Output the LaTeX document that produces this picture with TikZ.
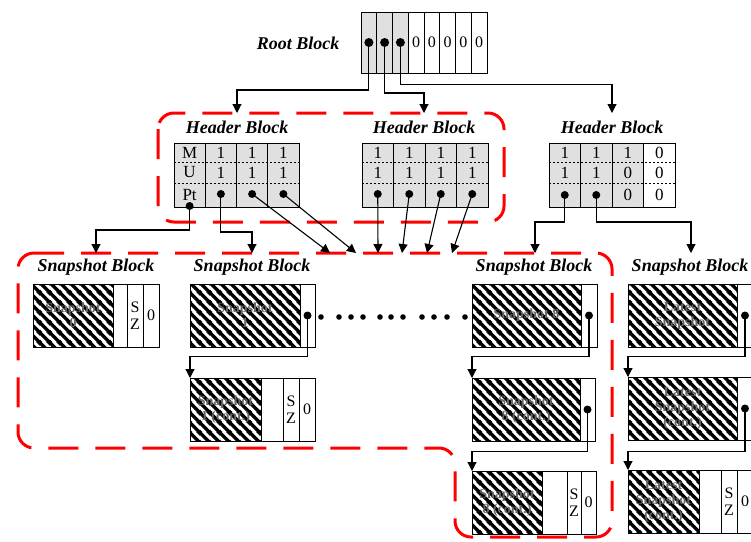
\documentclass[tikz,border=0pt]{standalone}
\usepackage{fontspec}
\setmainfont{Liberation Serif}
\usetikzlibrary{arrows.meta, positioning, calc, patterns.meta}

\tikzdeclarepattern{
  name=snaphatch,
  type=uncolored,
  bounding box={(0pt,0pt) and (10pt,10pt)},
  tile size={(10pt,10pt)},
  code={
    \draw[line width=3.6pt] (-1pt,11pt) -- (11pt,-1pt);
    \draw[line width=3.6pt] (-2pt,2pt) -- (2pt,-2pt);
    \draw[line width=3.6pt] (8pt,12pt) -- (12pt,8pt);
  }
}

\begin{document}
\begin{tikzpicture}[
  x=1pt, y=-1pt,
  every node/.style={outer sep=0pt},
  blocklabel/.style={font=\fontsize{18}{20}\selectfont\bfseries\itshape},
  cellbox/.style={draw, line width=1pt, inner sep=0pt, minimum height=63pt,
    align=center, font=\fontsize{16}{17}\selectfont},
  rootcell/.style={cellbox, minimum width=15.75pt, minimum height=61pt},
  hcol/.style={draw, line width=1pt, fill=black!12, minimum width=31.5pt, minimum height=64pt},
  bit/.style={inner sep=0pt, font=\fontsize{17}{17}\selectfont},
  hatchbox/.style={cellbox, pattern=snaphatch, text=black!60, font=\fontsize{14}{15}\selectfont\bfseries},
  ptr/.style={circle, fill=black, inner sep=0pt, minimum size=8pt},
  link/.style={line width=1.1pt, -{Triangle[length=9pt,width=9pt]}},
  sep/.style={line width=0.8pt, dash pattern=on 2pt off 2pt},
  region/.style={draw=red, line width=3pt, dash pattern=on 30pt off 17pt, rounded corners=16pt},
]
  \useasboundingbox (0,0) rectangle (751,541);

  % dashed groups
  \draw[region] (158,113) rectangle (504,222);
  \draw[region] (18,253) -- (612,253) -- (612,537) -- (455,537) -- (455,448) -- (18,448) -- cycle;

  % Root block
  \node[blocklabel] (rootlbl) at (298,43) {Root Block};
  \foreach \i/\f/\t in {1/black!12/,2/black!12/,3/black!12/,4/white/0,5/white/0,6/white/0,7/white/0,8/white/0}{
    \node[rootcell, fill=\f] (r\i) at ({361+15.75*(\i-0.5)},42.5) {\t};
  }
  \foreach \i in {1,2,3}{
    \node[ptr, minimum size=9pt] (rd\i) at (r\i) {};
  }

  % Header blocks
  \node[blocklabel] (hlA) at (237,127) {Header Block};
  \foreach \i/\m/\u in {1/M/U,2/1/1,3/1/1,4/1/1}{
    \node[hcol, minimum width=31.25pt] (ha\i) at ({174+31.25*(\i-0.5)},175) {};
    \node[bit] (ham\i) at ({174+31.25*(\i-0.5)},152.5) {\m};
    \node[bit] (hau\i) at ({174+31.25*(\i-0.5)},172.5) {\u};
  }
  \draw[sep] (174,162) -- (299,162);
  \draw[sep] (174,183) -- (299,183);
  \node[bit] (hapt) at (189.6,195) {Pt};
  \node[ptr] (pa1) at (189.6,206) {};
  \foreach \i in {2,3,4}{
    \node[ptr] (pa\i) at ({174+31.25*(\i-0.5)},194) {};
  }

  \node[blocklabel] (hlB) at (424,127) {Header Block};
  \foreach \i in {1,...,4}{
    \node[hcol] (hb\i) at ({362+31.5*(\i-0.5)},175) {};
    \node[bit] (hbm\i) at ({362+31.5*(\i-0.5)},152.5) {1};
    \node[bit] (hbu\i) at ({362+31.5*(\i-0.5)},172.5) {1};
    \node[ptr] (pb\i) at ({362+31.5*(\i-0.5)},194) {};
  }
  \draw[sep] (362,162) -- (488,162);
  \draw[sep] (362,183) -- (488,183);

  \node[blocklabel] (hlC) at (612,127) {Header Block};
  \foreach \i/\m/\u/\f in {1/1/1/black!12,2/1/1/black!12,3/1/0/black!12,4/0/0/white}{
    \node[hcol, fill=\f] (hc\i) at ({549+31.5*(\i-0.5)},175) {};
    \node[bit] (hcm\i) at ({549+31.5*(\i-0.5)},152.5) {\m};
    \node[bit] (hcu\i) at ({549+31.5*(\i-0.5)},172.5) {\u};
  }
  \draw[sep] (549,162) -- (675,162);
  \draw[sep] (549,183) -- (675,183);
  \node[ptr] (pc1) at (564.75,195) {};
  \node[ptr] (pc2) at (596.25,195) {};
  \node[bit] (hcp3) at (627.75,195) {0};
  \node[bit] (hcp4) at (659.25,195) {0};

  % Snapshot blocks
  \node[blocklabel] (sl0) at (96,267) {Snapshot Block};
  \node[hatchbox, minimum width=80pt, anchor=north west] (s0) at (33,284) {Snapshot\\0};
  \node[cellbox, minimum width=14pt, right=0pt of s0] (s0e) {};
  \node[cellbox, minimum width=16pt, right=0pt of s0e] (s0s) {S\\Z};
  \node[cellbox, minimum width=16pt, right=0pt of s0s] (s0z) {0};

  \node[blocklabel] (sl1) at (252,267) {Snapshot Block};
  \node[hatchbox, minimum width=110pt, anchor=north west] (s1) at (190,284) {Snapshot\\1};
  \node[cellbox, minimum width=15pt, right=0pt of s1] (s1p) {};
  \node[ptr] (d1) at (s1p) {};
  \node[hatchbox, minimum width=71pt, anchor=north west] (s1c) at (190,378) {Snapshot\\1 (cont.)};
  \node[cellbox, minimum width=22pt, right=0pt of s1c] (s1ce) {};
  \node[cellbox, minimum width=16pt, right=0pt of s1ce] (s1cs) {S\\Z};
  \node[cellbox, minimum width=16pt, right=0pt of s1cs] (s1cz) {0};

  \node[blocklabel] (sl8) at (534,267) {Snapshot Block};
  \node[hatchbox, minimum width=109pt, anchor=north west] (s8) at (472,284) {Snapshot 8};
  \node[cellbox, minimum width=16pt, right=0pt of s8] (s8p) {};
  \node[ptr] (d8) at (s8p) {};
  \node[hatchbox, minimum width=108pt, anchor=north west] (s8c) at (472,378) {Snapshot\\8 (cont.)};
  \node[cellbox, minimum width=15pt, right=0pt of s8c] (s8cp) {};
  \node[ptr] (d8c) at (s8cp) {};
  \node[hatchbox, minimum width=70pt, anchor=north west] (s8d) at (472,471) {Snapshot\\8 (cont.)};
  \node[cellbox, minimum width=25pt, right=0pt of s8d] (s8de) {};
  \node[cellbox, minimum width=14pt, right=0pt of s8de] (s8ds) {S\\Z};
  \node[cellbox, minimum width=15pt, right=0pt of s8ds] (s8dz) {0};

  \node[blocklabel] (slL) at (690,267) {Snapshot Block};
  \node[hatchbox, minimum width=109pt, anchor=north west] (L1) at (628,284) {Latest\\Snapshot};
  \node[cellbox, minimum width=16pt, right=0pt of L1] (L1p) {};
  \node[ptr] (dL1) at (L1p) {};
  \node[hatchbox, minimum width=109pt, anchor=north west] (L2) at (628,377) {Latest\\Snapshot\\(cont.)};
  \node[cellbox, minimum width=16pt, right=0pt of L2] (L2p) {};
  \node[ptr] (dL2) at (L2p) {};
  \node[hatchbox, minimum width=71pt, anchor=north west] (L3) at (628,470) {Latest\\Snapshot\\(cont.)};
  \node[cellbox, minimum width=22pt, right=0pt of L3] (L3e) {};
  \node[cellbox, minimum width=16pt, right=0pt of L3e] (L3s) {S\\Z};
  \node[cellbox, minimum width=16pt, right=0pt of L3s] (L3z) {0};

  % dots between snapshot 1 and snapshot 8
  \foreach \x in {321,339,351,363,380,391,403,422,434,447,465}{
    \fill (\x,317) circle (2.8pt);
  }

  % entry points
  \coordinate (inA) at (237,113);
  \coordinate (inB) at (424,113);
  \coordinate (inC) at (612,113);
  \coordinate (in0) at (96,253);
  \coordinate (in1) at (252,253);
  \coordinate (in8) at (535,253);
  \coordinate (inL) at (691,253);

  % root pointers
  \draw[link] (rd1.center) -- ++(0,47.5) -| (inA);
  \draw[link] (rd2.center) -- ++(0,50.5) -| (inB);
  \draw[link] (rd3.center) -- ++(0,42) -| (inC);

  % header pointers
  \draw[link] (pa1.center) -- ++(0,24) -| (in0);
  \draw[link] (pa2.center) -- ++(0,38) -| (in1);
  \draw[link] (pa3.center) -- (330,253);
  \draw[link] (pa4.center) -- (356,253);
  \draw[link] (pb1.center) -- (378,253);
  \draw[link] (pb2.center) -- (402,253);
  \draw[link] (pb3.center) -- (427,253);
  \draw[link] (pb4.center) -- (452,253);
  \draw[link] (pc1.center) -- ++(0,27) -| (in8);
  \draw[link] (pc2.center) -- ++(0,27) -| (inL);

  % snapshot chains
  \draw[link] (d1.center) -- ++(0,41) -| (s1c.north west);
  \draw[link] (d8.center) -- ++(0,41) -| (s8c.north west);
  \draw[link] (d8c.center) -- ++(0,42) -| (s8d.north west);
  \draw[link] (dL1.center) -- ++(0,41) -| (L2.north west);
  \draw[link] (dL2.center) -- ++(0,43) -| (L3.north west);
\end{tikzpicture}
\end{document}
